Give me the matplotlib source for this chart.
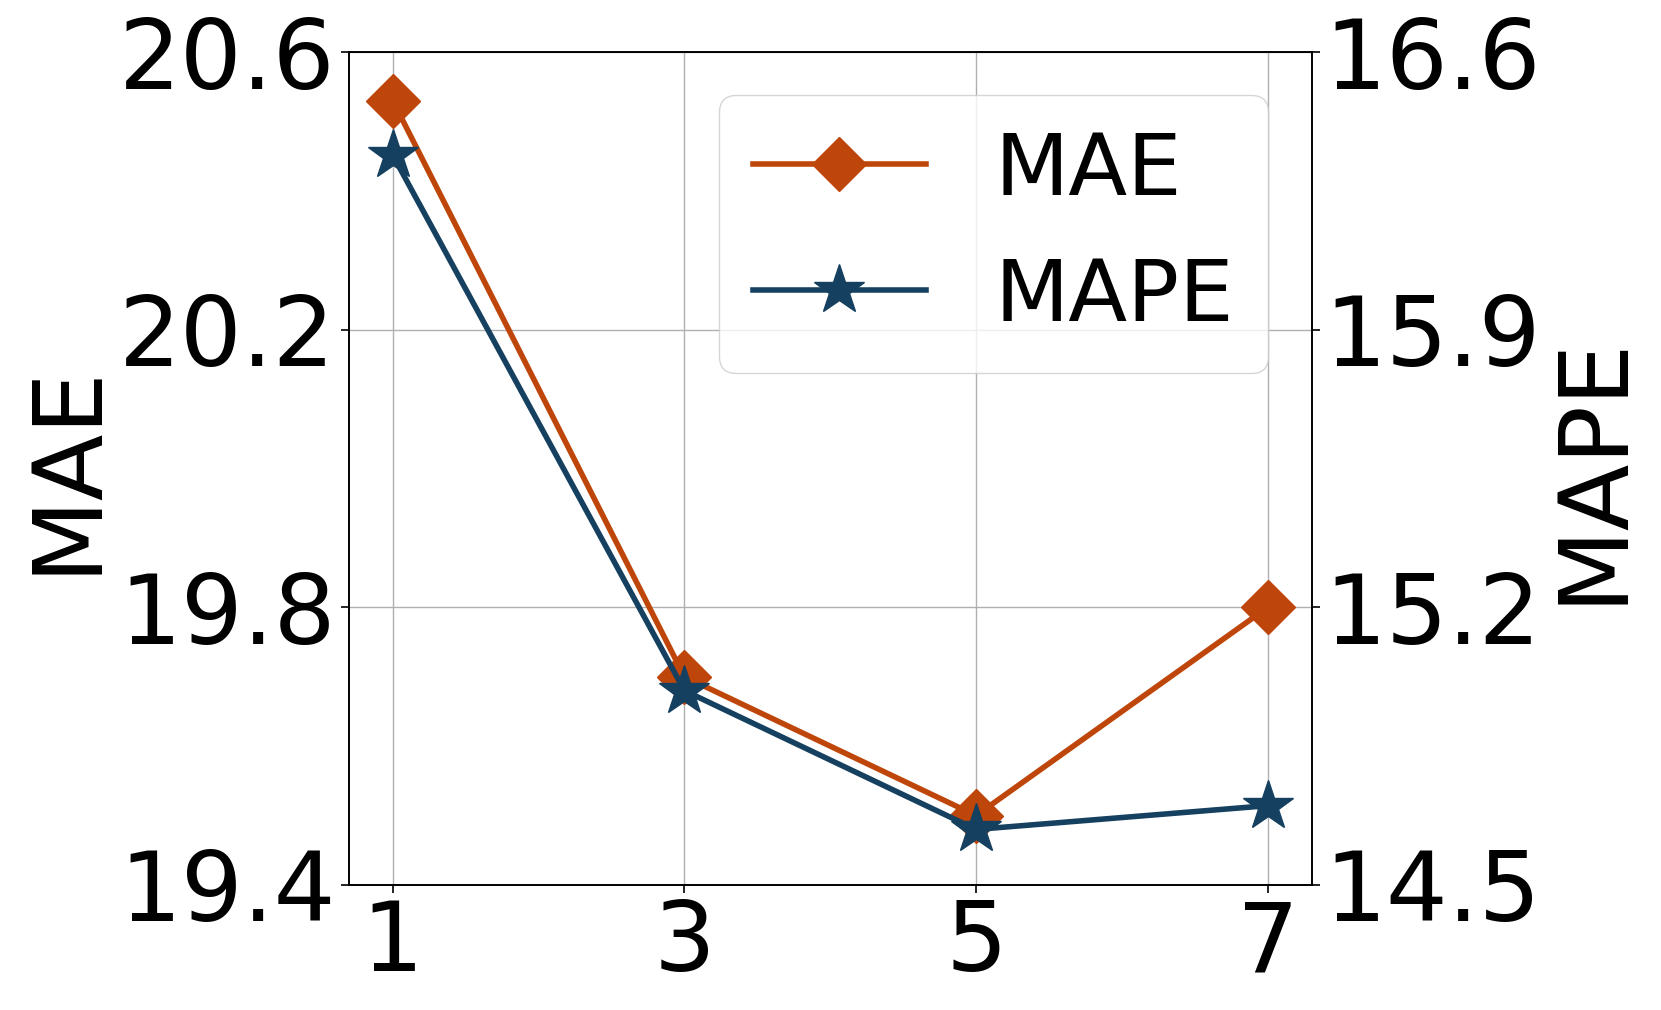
import matplotlib
matplotlib.use('Agg')
import matplotlib.pyplot as plt

# kernel size on x, two metrics on twin y axes
x_vals = [1, 3, 5, 7]
mae = [20.53, 19.70, 19.50, 19.80]
mape = [16.34, 14.99, 14.64, 14.70]

mae_ticks = [19.4, 19.8, 20.2, 20.6]
mape_ticks = [14.5, 15.2, 15.9, 16.6]

c_mae = '#BF460A'
c_mape = '#15405F'

plt.rcParams['font.family'] = 'DejaVu Sans'

fig = plt.figure(figsize=(16.61, 10.10), dpi=100)
ax1 = fig.add_axes([0.2101, 0.1238, 0.5795, 0.8247])
ax2 = ax1.twinx()

l1, = ax1.plot(x_vals, mae, color=c_mae, lw=4, marker='D', ms=27, label='MAE')
l2, = ax2.plot(x_vals, mape, color=c_mape, lw=4, marker='*', ms=38, label='MAPE')

ax1.set_xlim(0.7, 7.3)
ax1.set_xticks(x_vals)
ax1.set_ylim(mae_ticks[0], mae_ticks[-1])
ax1.set_yticks(mae_ticks)
ax2.set_ylim(mape_ticks[0], mape_ticks[-1])
ax2.set_yticks(mape_ticks)
ax1.yaxis.set_major_formatter(lambda v, _: f"{v:.1f}")
ax2.yaxis.set_major_formatter(lambda v, _: f"{v:.1f}")

ax1.grid(True, color='#b0b0b0', lw=1.0)
ax1.tick_params(labelsize=70, length=6, width=1.2)
ax2.tick_params(labelsize=70, length=6, width=1.2)
ax1.set_ylabel('MAE', fontsize=70)
ax2.set_ylabel('MAPE', fontsize=70)

for ax in (ax1, ax2):
    for s in ax.spines.values():
        s.set_linewidth(1.2)

ax2.legend(handles=[l1, l2], loc='upper right', fontsize=62)

fig.savefig('out.png', dpi=100)
